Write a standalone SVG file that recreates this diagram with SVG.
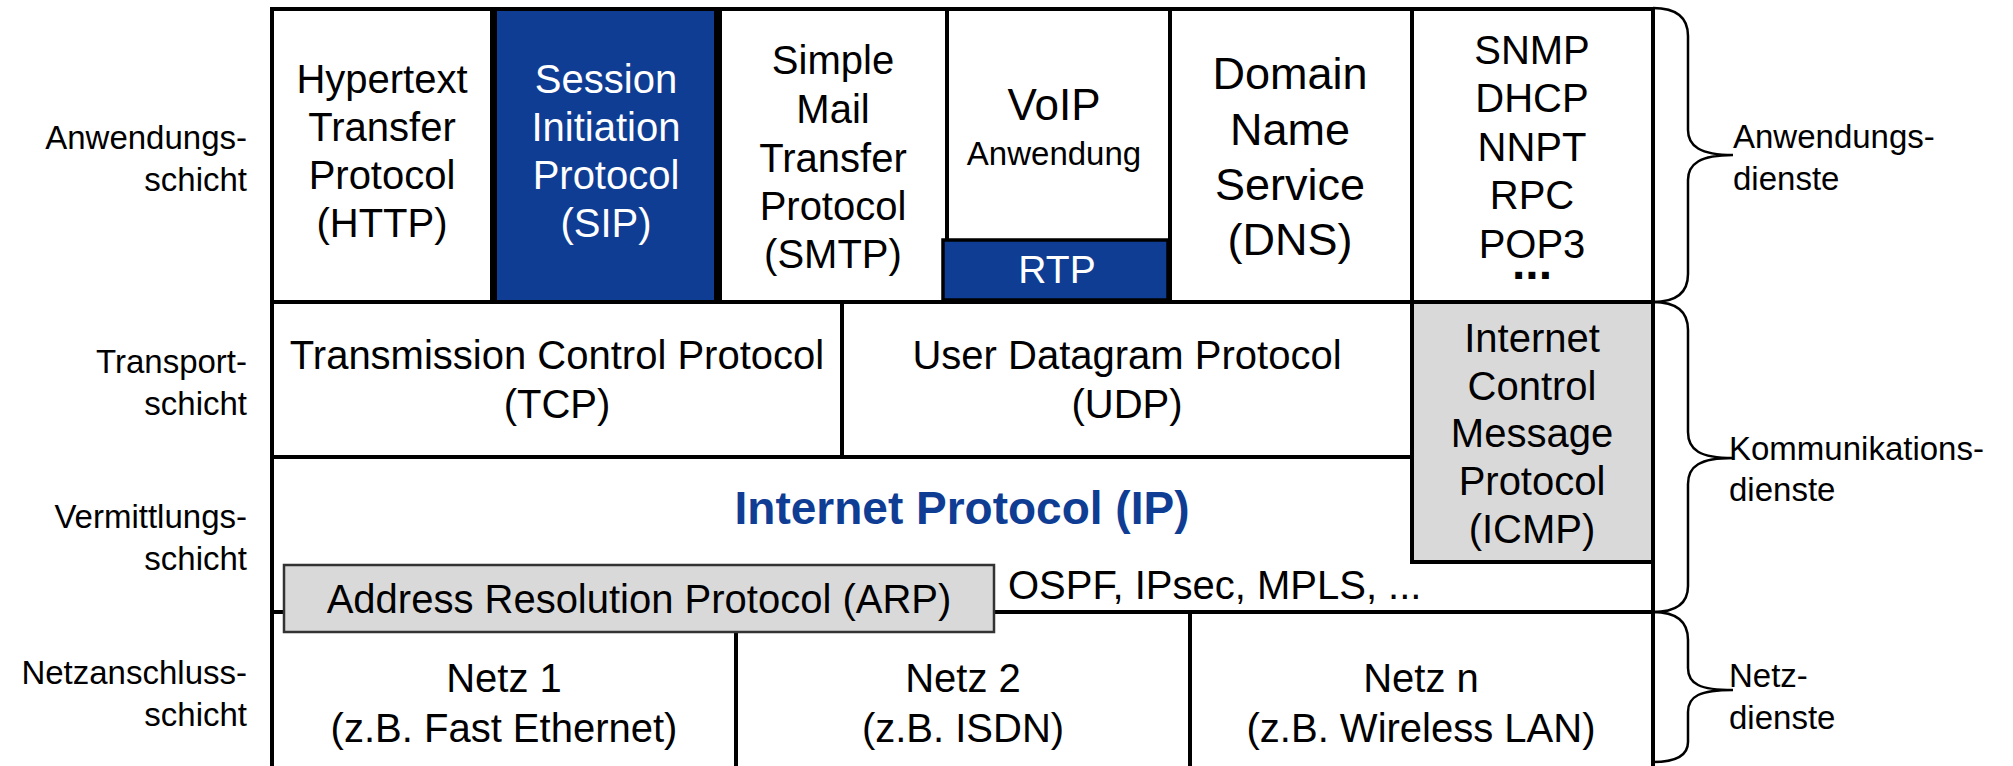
<svg xmlns="http://www.w3.org/2000/svg" width="2013" height="766" viewBox="0 0 2013 766">
<style>
text { font-family: "Liberation Sans", Arial, Helvetica, sans-serif; }
.box { fill: #ffffff; stroke: #000000; stroke-width: 4; }
.blue { fill: #0f3d94; stroke: #000000; stroke-width: 4; }
.gray { fill: #d9d9d9; stroke: #000000; stroke-width: 4; }
.arpbox { fill: #d9d9d9; stroke: #333333; stroke-width: 2.5; }
.t { font-size: 40px; fill: #000000; text-anchor: middle; }
.w { fill: #ffffff; }
.lbl { font-size: 33px; fill: #000000; text-anchor: end; }
.rl { font-size: 33px; fill: #000000; text-anchor: start; }
.ip { font-size: 46px; font-weight: bold; fill: #0f3d94; text-anchor: middle; }
.brace { fill: none; stroke: #000000; stroke-width: 2.5; }
</style>
<rect x="0" y="0" width="2013" height="766" fill="#ffffff"/>

<g id="http">
<rect class="box" x="272" y="9" width="220" height="293"/>
<text class="t" x="382" y="93">Hypertext</text>
<text class="t" x="382" y="141">Transfer</text>
<text class="t" x="382" y="189">Protocol</text>
<text class="t" x="382" y="237">(HTTP)</text>
</g>
<g id="sip">
<rect class="blue" x="495" y="9" width="221" height="293"/>
<text class="t w" x="606" y="93">Session</text>
<text class="t w" x="606" y="141">Initiation</text>
<text class="t w" x="606" y="189">Protocol</text>
<text class="t w" x="606" y="237">(SIP)</text>
</g>
<g id="smtp">
<rect class="box" x="720" y="9" width="227" height="293"/>
<text class="t" x="833" y="74">Simple</text>
<text class="t" x="833" y="123">Mail</text>
<text class="t" x="833" y="172">Transfer</text>
<text class="t" x="833" y="220">Protocol</text>
<text class="t" x="833" y="268">(SMTP)</text>
</g>
<g id="voip">
<rect class="box" x="947" y="9" width="223" height="293"/>
<text class="t" x="1054" y="120" style="font-size:44px">VoIP</text>
<text class="t" x="1054" y="165" style="font-size:33px">Anwendung</text>
</g>
<g id="rtp">
<rect class="blue" x="943" y="240" width="225" height="60" style="stroke-width:3.5"/>
<text class="t w" x="1057" y="283" style="font-size:39px">RTP</text>
</g>
<g id="dns">
<rect class="box" x="1170" y="9" width="242" height="293"/>
<text class="t" x="1290" y="89" style="font-size:45px">Domain</text>
<text class="t" x="1290" y="145" style="font-size:45px">Name</text>
<text class="t" x="1290" y="200" style="font-size:45px">Service</text>
<text class="t" x="1290" y="255" style="font-size:45px">(DNS)</text>
</g>
<g id="other-apps">
<rect class="box" x="1412" y="9" width="241" height="293"/>
<text class="t" x="1532" y="64">SNMP</text>
<text class="t" x="1532" y="112">DHCP</text>
<text class="t" x="1532" y="161">NNPT</text>
<text class="t" x="1532" y="209">RPC</text>
<text class="t" x="1532" y="258">POP3</text>
<text class="t" x="1532" y="279" style="font-size:48px;font-weight:bold">...</text>
</g>

<g id="tcp">
<rect class="box" x="272" y="302" width="570" height="155"/>
<text class="t" x="557" y="369">Transmission Control Protocol</text>
<text class="t" x="557" y="418">(TCP)</text>
</g>
<g id="udp">
<rect class="box" x="842" y="302" width="570" height="155"/>
<text class="t" x="1127" y="369">User Datagram Protocol</text>
<text class="t" x="1127" y="418">(UDP)</text>
</g>

<g id="ip">
<rect class="box" x="272" y="457" width="1381" height="155"/>
<text class="ip" x="962" y="524">Internet Protocol (IP)</text>
<text class="t" x="1008" y="599" style="text-anchor:start">OSPF, IPsec, MPLS, ...</text>
</g>

<g id="netz1">
<rect class="box" x="272" y="612" width="464" height="170"/>
<text class="t" x="504" y="692">Netz 1</text>
<text class="t" x="504" y="742">(z.B. Fast Ethernet)</text>
</g>
<g id="netz2">
<rect class="box" x="736" y="612" width="454" height="170"/>
<text class="t" x="963" y="692">Netz 2</text>
<text class="t" x="963" y="742">(z.B. ISDN)</text>
</g>
<g id="netzn">
<rect class="box" x="1190" y="612" width="463" height="170"/>
<text class="t" x="1421" y="692">Netz n</text>
<text class="t" x="1421" y="742">(z.B. Wireless LAN)</text>
</g>

<g id="icmp">
<rect class="gray" x="1412" y="302" width="241" height="260"/>
<text class="t" x="1532" y="352">Internet</text>
<text class="t" x="1532" y="400">Control</text>
<text class="t" x="1532" y="447">Message</text>
<text class="t" x="1532" y="495">Protocol</text>
<text class="t" x="1532" y="543">(ICMP)</text>
</g>

<g id="arp">
<rect class="arpbox" x="284" y="565" width="710" height="67"/>
<text class="t" x="639" y="613">Address Resolution Protocol (ARP)</text>
</g>

<g id="connectors">
<path class="brace" d="M1653,8 C1675,8 1688,16 1688,36 L1688,130 C1688,146 1700,155 1733,155 C1700,155 1688,164 1688,180 L1688,274 C1688,294 1675,302 1653,302"/>
<path class="brace" d="M1653,302 C1675,302 1688,310 1688,330 L1688,432 C1688,450 1700,458 1733,458 C1700,458 1688,466 1688,484 L1688,586 C1688,604 1675,612 1653,612"/>
<path class="brace" d="M1653,612 C1675,612 1688,620 1688,640 L1688,668 C1688,684 1700,690 1733,690 C1700,690 1688,696 1688,712 L1688,742 C1688,756 1675,762 1653,762"/>
</g>

<g id="layer-labels">
<text class="lbl" x="247" y="149">Anwendungs-</text>
<text class="lbl" x="247" y="191">schicht</text>
<text class="lbl" x="247" y="373">Transport-</text>
<text class="lbl" x="247" y="415">schicht</text>
<text class="lbl" x="247" y="528">Vermittlungs-</text>
<text class="lbl" x="247" y="570">schicht</text>
<text class="lbl" x="247" y="684">Netzanschluss-</text>
<text class="lbl" x="247" y="726">schicht</text>
</g>

<g id="service-labels">
<text class="rl" x="1733" y="148">Anwendungs-</text>
<text class="rl" x="1733" y="190">dienste</text>
<text class="rl" x="1729" y="460">Kommunikations-</text>
<text class="rl" x="1729" y="501">dienste</text>
<text class="rl" x="1729" y="687">Netz-</text>
<text class="rl" x="1729" y="729">dienste</text>
</g>
</svg>
